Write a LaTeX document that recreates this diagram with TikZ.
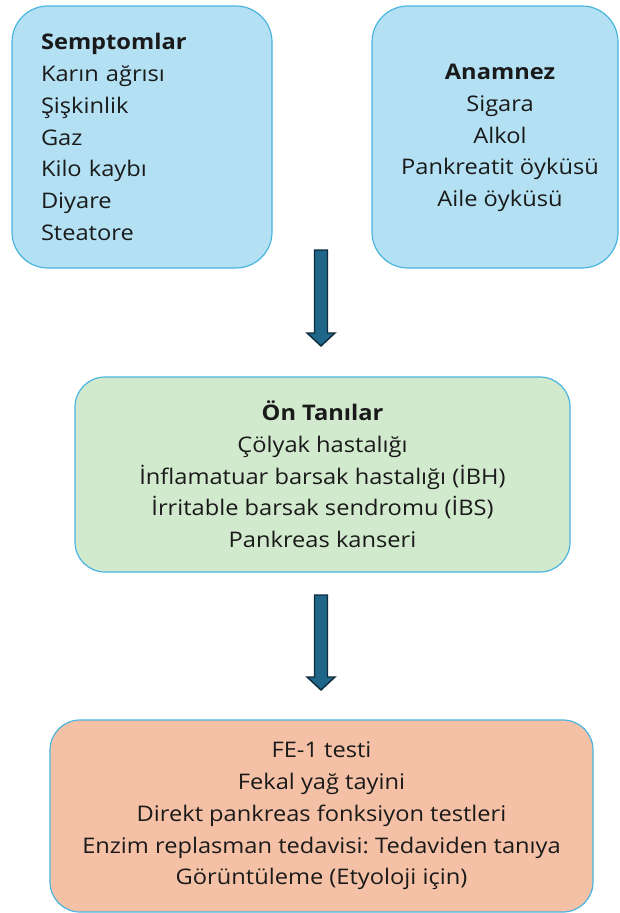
\documentclass[tikz,border=0pt]{standalone}
\usepackage{fontspec}
\setmainfont{Open Sans}[FakeStretch=1.1]
\definecolor{bluefill}{HTML}{B3E1F3}
\definecolor{blueline}{HTML}{4AB4DE}
\definecolor{greenfill}{HTML}{D1E9CD}
\definecolor{orangefill}{HTML}{F5C1A6}
\definecolor{arrowfill}{HTML}{1F6688}
\definecolor{arrowline}{HTML}{0D2B3C}
\definecolor{txt}{HTML}{1A1A1A}
\tikzset{
  boxstyle/.style={draw=blueline, line width=1.2pt, rounded corners=#1, inner sep=0pt,
    font=\fontsize{21.5}{31.7}\selectfont\frenchspacing, text=txt},
  boxstyle/.default=32pt,
  textstyle/.style={inner sep=0pt, font=\fontsize{21.5}{31.7}\selectfont\frenchspacing, text=txt},
  arrowbody/.style={fill=arrowfill, draw=arrowline, line width=1.4pt, line join=miter}
}
\begin{document}
\begin{tikzpicture}[x=1pt,y=-1pt]
\useasboundingbox (0,0) rectangle (620,913);
\node[boxstyle=36pt, fill=bluefill, minimum width=260pt, minimum height=262pt,
  text width=202pt, align=left] (symp) at (142,137)
  {\textbf{Semptomlar}\\Karın ağrısı\\Şişkinlik\\Gaz\\Kilo kaybı\\Diyare\\Steatore};
\node[boxstyle=36pt, fill=bluefill, minimum width=246pt, minimum height=262pt] (anam) at (495,137) {};
\node[textstyle, align=center] (anamtext) at (500,138)
  {\textbf{Anamnez}\\Sigara\\Alkol\\Pankreatit öyküsü\\Aile öyküsü};
\node[boxstyle=30pt, fill=greenfill, minimum width=495pt, minimum height=195pt,
  align=center] (onta) at (322.5,474.5)
  {\textbf{Ön Tanılar}\\Çölyak hastalığı\\İnflamatuar barsak hastalığı (İBH)\\İrritable barsak sendromu (İBS)\\Pankreas kanseri};
\node[boxstyle=30pt, fill=orangefill, minimum width=543pt, minimum height=192pt,
  align=center] (test) at (321.5,816)
  {FE-1 testi\\Fekal yağ tayini\\Direkt pankreas fonksiyon testleri\\Enzim replasman tedavisi: Tedaviden tanıya\\Görüntüleme (Etyoloji için)};
% arrows
\coordinate (a1) at (321,250);
\coordinate (a2) at (321,595);
\draw[arrowbody] (a1) ++(-6.5,0) -- ++(13,0) -- ++(0,83) -- ++(7.5,0) -- ++(-14,13)
  -- ++(-14,-13) -- ++(7.5,0) -- cycle;
\draw[arrowbody] (a2) ++(-6.5,0) -- ++(13,0) -- ++(0,82) -- ++(7.5,0) -- ++(-14,13)
  -- ++(-14,-13) -- ++(7.5,0) -- cycle;
\end{tikzpicture}
\end{document}
